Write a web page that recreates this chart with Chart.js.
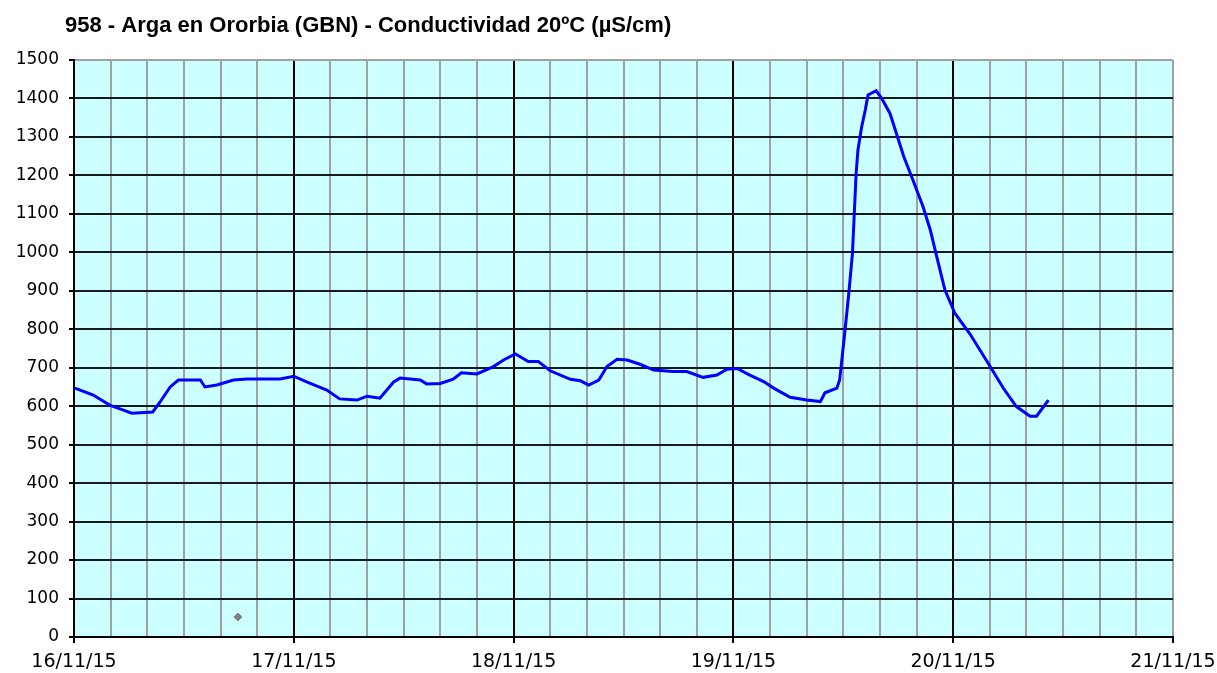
<!DOCTYPE html>
<html>
<head>
<meta charset="utf-8">
<title>Conductividad</title>
<script src="https://cdn.jsdelivr.net/npm/chart.js@4.4.1/dist/chart.umd.min.js"></script>
<style>
    body { margin: 0; background: #fff; }
    #wrap { width: 1217px; height: 673px; }
</style>
</head>
<body>
<div id="wrap"><canvas id="condChart" width="1217" height="673"></canvas></div>
<script>
// hours since 16/11/15 00:00 and conductivity (µS/cm)
const hours = [0.1, 2.1, 3.9, 5.4, 6.3, 8.6, 9.4, 10.5, 11.4, 13.8, 14.3, 15.6, 17.4, 18.9, 22.5,
    24.0, 25.4, 27.6, 29.0, 30.9, 32.0, 33.4, 34.9, 35.6, 37.8, 38.5, 40.0, 41.4, 42.3, 44.0,
    45.8, 46.9, 48.2, 49.6, 50.7, 52.0, 54.2, 55.3, 56.2, 57.3, 58.2, 59.3, 60.4, 61.8, 63.3,
    65.4, 66.9, 68.7, 70.2, 71.3, 72.4, 73.8, 75.3, 76.4, 78.2, 80.0, 81.5, 82.0, 83.3, 83.6,
    83.8, 84.2, 84.6, 85.0, 85.2, 85.4, 85.6, 86.0, 86.4, 86.7, 87.6, 88.2, 89.1, 89.8, 90.6,
    91.6, 92.7, 93.5, 94.2, 95.1, 96.2, 97.8, 99.7, 101.5, 102.9, 104.4, 105.1, 106.4];
const conductivity = [647, 629, 603, 590, 582, 585, 611, 650, 668, 668, 650, 655, 668, 671, 671,
    678, 663, 642, 619, 616, 626, 621, 663, 673, 668, 658, 659, 670, 687, 684,
    703, 720, 736, 716, 716, 692, 670, 666, 655, 668, 703, 722, 720, 709, 694,
    690, 690, 675, 681, 696, 698, 681, 664, 647, 623, 616, 612, 635, 647, 668,
    711, 800, 893, 997, 1101, 1205, 1266, 1326, 1370, 1409, 1420, 1400, 1361, 1309, 1249,
    1188, 1119, 1058, 989, 902, 841, 789, 716, 646, 599, 574, 574, 616];

// the lone grey marker near the bottom
const markerHour = [17.9];
const markerValue = [52];

const dayLabels = ['16/11/15', '17/11/15', '18/11/15', '19/11/15', '20/11/15', '21/11/15'];
const titleText = '958 - Arga en Ororbia (GBN) - Conductividad 20ºC (µS/cm)';

const plotBackground = {
    id: 'plotBackground',
    beforeDraw(chart) {
        const a = chart.chartArea;
        const c = chart.ctx;
        c.save();
        c.fillStyle = '#ccffff';
        c.fillRect(a.left, a.top, a.right - a.left, a.bottom - a.top);
        c.restore();
    }
};

const titlePlugin = {
    id: 'titlePlugin',
    afterDraw(chart) {
        const c = chart.ctx;
        c.save();
        c.font = 'bold 22px "Liberation Sans", Arial, sans-serif';
        c.fillStyle = '#000';
        c.textBaseline = 'alphabetic';
        c.fillText(titleText, 65, 32);
        c.restore();
    }
};

const ctx = document.getElementById('condChart').getContext('2d');

new Chart(ctx, {
    type: 'line',
    data: {
        datasets: [{
            data: hours.map((h, i) => ({ x: h, y: conductivity[i] })),
            borderColor: '#0000ff',
            borderWidth: 3,
            pointRadius: 0,
            tension: 0,
            fill: false
        }, {
            data: markerHour.map((h, i) => ({ x: h, y: markerValue[i] })),
            showLine: false,
            pointStyle: 'rectRot',
            pointRadius: 4,
            backgroundColor: '#808080',
            borderColor: '#808080'
        }]
    },
    options: {
        responsive: false,
        animation: false,
        layout: { padding: { top: 60, right: 44, left: 0, bottom: 0 } },
        plugins: {
            legend: { display: false },
            tooltip: { enabled: false },
            title: { display: false }
        },
        scales: {
            x: {
                type: 'linear',
                min: 0,
                max: 120,
                afterFit: (s) => {
                    s.height = 36;
                    s.paddingLeft = 0;
                    s.paddingRight = 0;
                },
                afterBuildTicks: (s) => {
                    s.ticks = [];
                    for (let v = 0; v <= 120; v += 4) s.ticks.push({ value: v });
                },
                ticks: {
                    autoSkip: false,
                    maxRotation: 0,
                    padding: 8,
                    color: '#000',
                    font: { family: 'DejaVu Sans', size: 19 },
                    callback: (v) => (v % 24 === 0 ? dayLabels[v / 24] : '')
                },
                grid: {
                    color: (c) => (c.tick && c.tick.value % 24 === 0 && c.tick.value < 120 ? '#000' : '#a0a0a0'),
                    tickColor: (c) => (c.tick && c.tick.value % 24 === 0 ? '#000' : 'rgba(0,0,0,0)'),
                    tickLength: 6,
                    lineWidth: 2,
                    tickWidth: 2
                },
                border: { color: '#000', width: 2 }
            },
            y: {
                min: 0,
                max: 1500,
                afterFit: (s) => { s.width = 74; },
                ticks: {
                    stepSize: 100,
                    padding: 10,
                    color: '#000',
                    font: { family: 'DejaVu Sans', size: 17 },
                    callback: (v) => String(v)
                },
                grid: {
                    color: (c) => (c.tick && c.tick.value === 1500 ? '#a0a0a0' : '#1a1a1a'),
                    tickColor: '#000',
                    tickLength: 5,
                    lineWidth: 2,
                    tickWidth: 2
                },
                border: { color: '#000', width: 2 }
            }
        }
    },
    plugins: [plotBackground, titlePlugin]
});
</script>
</body>
</html>
